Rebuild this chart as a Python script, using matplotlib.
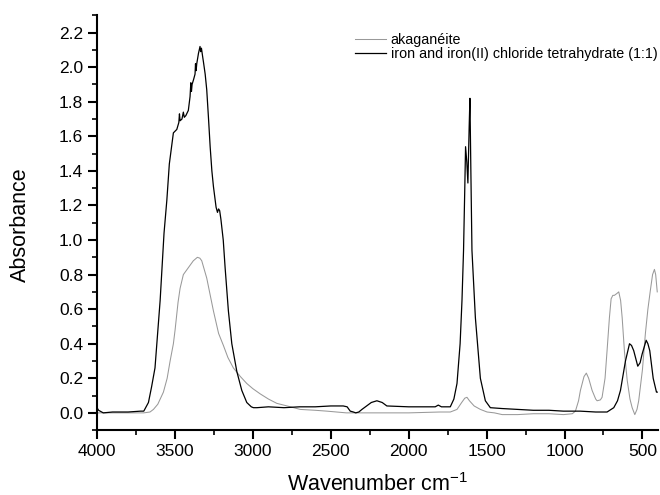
import matplotlib
matplotlib.use('Agg')
import matplotlib.pyplot as plt
from matplotlib.ticker import MultipleLocator

plt.rcParams['font.family'] = ['Liberation Sans', 'DejaVu Sans']
plt.rcParams['mathtext.default'] = 'regular'

# iron and iron(II) chloride tetrahydrate (1:1)
wn_iron = [4000, 3990, 3960, 3900, 3800, 3720, 3700, 3670, 3650, 3628, 3595, 3570,
           3552, 3536, 3510, 3488, 3475, 3471, 3467, 3455, 3446, 3440, 3430, 3414,
           3403, 3398, 3394, 3390, 3380, 3371, 3368, 3364, 3360, 3349, 3339, 3335,
           3330, 3322, 3317, 3306, 3296, 3285, 3274, 3263, 3253, 3236, 3227, 3220,
           3213, 3205, 3190, 3178, 3157, 3135, 3103, 3071, 3039, 3010, 2996, 2974,
           2900, 2800, 2700, 2600, 2500, 2420, 2395, 2375, 2355, 2340, 2320, 2300,
           2270, 2240, 2204, 2170, 2140, 2000, 1900, 1830, 1810, 1790, 1733, 1710,
           1690, 1670, 1658, 1648, 1640, 1635, 1627, 1620, 1612, 1607, 1601, 1594,
           1572, 1540, 1508, 1476, 1400, 1300, 1200, 1100, 1007, 900, 800, 727,
           684, 660, 641, 609, 583, 570, 556, 530, 515, 502, 476, 465, 453, 431,
           410, 405]
abs_iron = [0.03, 0.015, 0.0, 0.005, 0.005, 0.01, 0.01, 0.06, 0.15, 0.26, 0.65, 1.04,
            1.23, 1.44, 1.62, 1.64, 1.68, 1.73, 1.69, 1.70, 1.74, 1.71, 1.72, 1.75,
            1.83, 1.91, 1.86, 1.90, 1.93, 1.96, 2.02, 1.98, 2.02, 2.08, 2.12, 2.09,
            2.11, 2.06, 2.03, 1.96, 1.87, 1.71, 1.54, 1.40, 1.31, 1.19, 1.16, 1.18,
            1.17, 1.12, 1.00, 0.84, 0.59, 0.40, 0.24, 0.13, 0.06, 0.035, 0.03, 0.03,
            0.035, 0.03, 0.035, 0.035, 0.04, 0.04, 0.035, 0.01, 0.005, 0.0, 0.005, 0.02,
            0.04, 0.06, 0.07, 0.06, 0.04, 0.035, 0.035, 0.035, 0.045, 0.035, 0.035, 0.08,
            0.17, 0.40, 0.65, 0.94, 1.30, 1.54, 1.45, 1.33, 1.65, 1.82, 1.40, 0.94,
            0.55, 0.20, 0.07, 0.03, 0.025, 0.02, 0.015, 0.015, 0.01, 0.01, 0.005, 0.005,
            0.03, 0.07, 0.13, 0.30, 0.40, 0.39, 0.36, 0.27, 0.29, 0.34, 0.42, 0.40, 0.36, 0.20,
            0.12, 0.12]

# akaganeite
wn_aka = [4000, 3900, 3800, 3700, 3660, 3638, 3610, 3574, 3550, 3531, 3510, 3499,
          3480, 3467, 3446, 3414, 3382, 3356, 3340, 3328, 3296, 3253, 3220, 3189,
          3160, 3125, 3080, 3039, 3000, 2953, 2900, 2846, 2780, 2696, 2600, 2525,
          2400, 2200, 2000, 1800, 1733, 1690, 1660, 1640, 1626, 1610, 1580, 1540,
          1497, 1450, 1400, 1300, 1200, 1100, 1007, 950, 930, 910, 898, 875, 860,
          845, 823, 800, 791, 770, 759, 740, 727, 712, 701, 690, 680, 665, 652,
          640, 630, 615, 598, 580, 566, 549, 535, 524, 500, 481, 465, 449, 435,
          423, 415, 410, 405]
abs_aka = [0.0, 0.0, 0.0, 0.0, 0.005, 0.02, 0.05, 0.12, 0.20, 0.30, 0.40, 0.48,
           0.64, 0.72, 0.80, 0.84, 0.88, 0.90, 0.895, 0.88, 0.78, 0.59, 0.46, 0.39,
           0.32, 0.26, 0.21, 0.17, 0.14, 0.11, 0.08, 0.055, 0.04, 0.02, 0.015, 0.01,
           0.0, 0.0, 0.0, 0.005, 0.005, 0.02, 0.06, 0.085, 0.09, 0.07, 0.04, 0.02,
           0.005, 0.0, -0.01, -0.01, -0.005, -0.005, -0.01, -0.005, 0.01, 0.07, 0.13, 0.21, 0.23,
           0.20, 0.13, 0.08, 0.07, 0.075, 0.09, 0.20, 0.36, 0.55, 0.66, 0.68, 0.68, 0.69, 0.70,
           0.65, 0.55, 0.35, 0.19, 0.08, 0.03, -0.01, 0.02, 0.07, 0.25, 0.46, 0.60, 0.71, 0.80,
           0.83, 0.80, 0.75, 0.70]

fig = plt.figure(figsize=(6.6, 4.95), dpi=100)
ax = fig.add_axes([0.147, 0.131, 0.85, 0.838])

ax.plot(wn_aka, abs_aka, color='0.6', lw=0.75, label='akaganéite')
ax.plot(wn_iron, abs_iron, color='black', lw=0.9,
        label='iron and iron(II) chloride tetrahydrate (1:1)')

ax.set_xlim(4000, 400)
ax.set_ylim(-0.1, 2.3)
ax.xaxis.set_major_locator(MultipleLocator(500))
ax.xaxis.set_minor_locator(MultipleLocator(250))
ax.yaxis.set_major_locator(MultipleLocator(0.2))
ax.yaxis.set_minor_locator(MultipleLocator(0.1))
ax.yaxis.set_major_formatter(plt.FuncFormatter(lambda v, p: f'{v:.1f}'))

for s in ['top', 'right']:
    ax.spines[s].set_visible(False)
for s in ['left', 'bottom']:
    ax.spines[s].set_linewidth(1.5)
ax.tick_params(which='major', direction='out', length=6.5, width=1.5, labelsize=12.5)
ax.tick_params(which='minor', direction='out', length=3.5, width=1.2)

ax.set_xlabel('Wavenumber cm$^{-1}$', fontsize=15.5, labelpad=10)
ax.set_ylabel('Absorbance', fontsize=15.5)
ax.yaxis.set_label_coords(-0.118, 0.496)

ax.legend(loc='upper left', bbox_to_anchor=(0.447, 0.975), frameon=False,
          fontsize=10.3, handlelength=2.2, handletextpad=0.3, borderpad=0,
          labelspacing=0.0)

fig.savefig('out.png', dpi=100)
